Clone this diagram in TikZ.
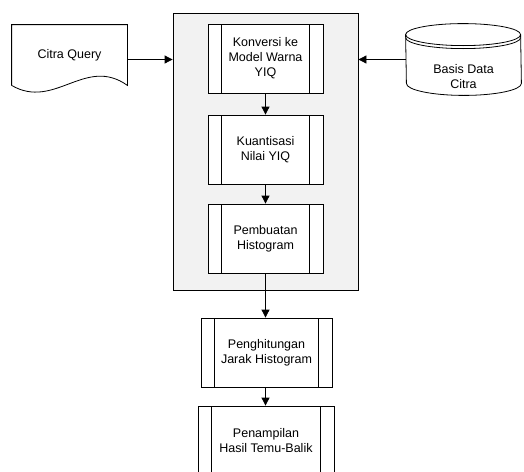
\documentclass[tikz,border=0pt]{standalone}
\usepackage{fontspec}
\setmainfont{Liberation Sans}
\usetikzlibrary{arrows.meta}

\begin{document}
\begin{tikzpicture}[x=1pt,y=-1pt,line width=0.8pt]
					\tikzstyle{every node}=[font=\fontsize{12.5}{15}\selectfont, align=center]
					\tikzstyle{arr}=[-{Triangle[length=8pt,width=8pt]}]
					\tikzstyle{proses}=[draw, fill=white, rectangle, minimum width=115pt, minimum height=69pt, inner sep=0pt,
						path picture={
							\draw ([xshift=13.5pt]path picture bounding box.north west) -- ([xshift=13.5pt]path picture bounding box.south west);
							\draw ([xshift=-13.5pt]path picture bounding box.north east) -- ([xshift=-13.5pt]path picture bounding box.south east);
						}]
					\useasboundingbox (0,0) rectangle (524,471);
					\clip (0,0) rectangle (524,471);

					% panel abu-abu
					\node [draw, fill=black!5, minimum width=185pt, minimum height=277pt] (panel) at (265.5,151.5) {};

					% proses di dalam panel
					\node [proses] (konversi) at (265.5,58.5) {Konversi ke\\Model Warna\\YIQ};
					\node [proses] (kuantisasi) at (265.5,149.5) {Kuantisasi\\Nilai YIQ};
					\node [proses] (histogram) at (265.5,238.5) {Pembuatan\\Histogram};

					% proses di luar panel
					\node [proses, minimum width=131pt] (jarak) at (266.5,352.5) {Penghitungan\\Jarak Histogram};
					\node [proses, minimum width=136pt] (tampil) at (266,440.5) {Penampilan\\Hasil Temu-Balik};

					% dokumen citra query
					\node [minimum width=115pt, minimum height=60pt] (query) at (69.5,55) {Citra Query};
					\draw (query.south west) -- (query.north west) -- (query.north east) -- (query.south east)
						.. controls +(-42,-30) and +(43,25) .. (query.south west);

					% basis data (silinder)
					\node [minimum width=115pt, minimum height=71pt] (db) at (463.5,59.5) {};
					\draw [fill=white] ([yshift=-11pt]db.north west) arc [start angle=180, end angle=0, x radius=57.5pt, y radius=11pt]
						-- ([yshift=12pt]db.south east) arc [start angle=0, end angle=-180, x radius=57.5pt, y radius=12pt] -- cycle;
					\draw ([yshift=-11pt]db.north west) arc [start angle=180, end angle=360, x radius=57.5pt, y radius=11pt];
					\draw ([yshift=-14pt]db.north west) arc [start angle=180, end angle=360, x radius=57.5pt, y radius=11pt];
					\node (dbteks) at ([yshift=-17pt]db.center) {Basis Data\\Citra};

					% panah
					\draw [arr] (query.east |- db.center) -- (panel.west |- db.center);
					\draw [arr] (db.west) -- (panel.east |- db.west);
					\draw [arr] (konversi) -- (kuantisasi);
					\draw [arr] (kuantisasi) -- (histogram);
					\draw [arr] (histogram.south) -- (histogram.south |- jarak.north);
					\draw [arr] (jarak.south -| histogram.south) -- (histogram.south |- tampil.north);
				\end{tikzpicture}
\end{document}
